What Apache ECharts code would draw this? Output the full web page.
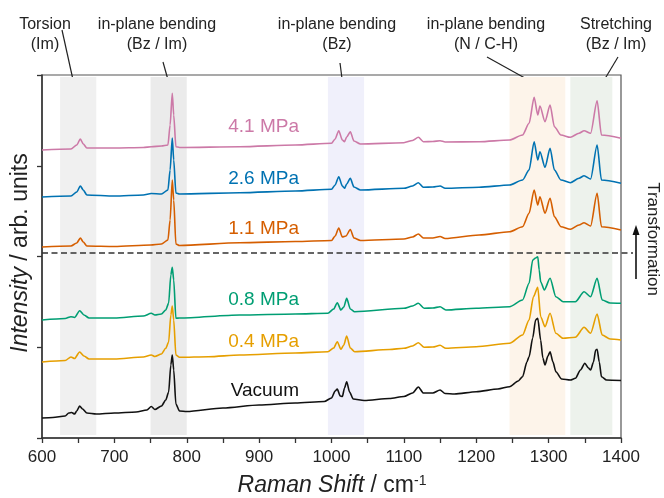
<!DOCTYPE html>
<html>
<head>
<meta charset="utf-8">
<script src="https://cdn.jsdelivr.net/npm/echarts@6.0.0/dist/echarts.min.js"></script>
<style>
  html, body { margin: 0; padding: 0; background: #fff; }
  #chart { width: 664px; height: 498px; }
</style>
</head>
<body>
<div id="chart"></div>
<script>
  // Raman spectra, [wavenumber (cm-1), intensity (arb., offset per trace)]
  const vacuum = [
    [600, 20], [615, 20.5], [632, 22], [637, 25], [641, 25.5], [645, 24], [648, 27], [652, 32], [656, 29],
    [662, 25], [675, 24], [700, 25], [730, 26], [745, 28], [751, 31.5], [756, 28.5], [765, 32], [771, 38],
    [775, 46], [778, 73], [780, 83], [782, 68], [785, 34], [790, 27], [800, 26.5], [850, 30], [900, 33],
    [950, 35], [990, 36.5], [1000, 40], [1005, 47], [1008, 49], [1012, 42], [1015, 41.5], [1018, 50],
    [1021, 56.3], [1025, 46], [1030, 39], [1045, 37.5], [1080, 39.5], [1100, 41.5], [1112, 45], [1120, 51],
    [1127, 45], [1140, 45], [1150, 48], [1157, 44.5], [1170, 44], [1200, 46.3], [1230, 49], [1246, 51.3],
    [1258, 57], [1264, 61.3], [1270, 76], [1273, 81.3], [1278, 100], [1282, 118], [1285, 119.7], [1289, 98],
    [1292, 80], [1295, 73], [1299, 82], [1302, 86.3], [1306, 76], [1310, 66.3], [1318, 59], [1330, 58],
    [1337, 59.7], [1344, 68], [1350, 74.7], [1355, 70], [1358, 68], [1362, 76], [1365, 88], [1367, 88.7],
    [1370, 76], [1373, 61.3], [1380, 58], [1400, 57.5]
  ];
  const p04 = [
    [600, 76], [632, 77.5], [640, 81], [645, 79.5], [652, 86], [658, 82], [665, 79], [700, 79], [740, 81],
    [751, 83], [756, 81.5], [765, 84], [771, 89.7], [775, 96], [778, 123], [780, 132], [782, 118], [785, 83],
    [790, 80.7], [830, 81.3], [873, 83], [950, 85], [995, 86.3], [1003, 90], [1008, 96.3], [1013, 88.7],
    [1017, 93], [1021, 102], [1026, 90], [1032, 86.3], [1080, 88.5], [1100, 89.7], [1112, 92], [1120, 95.3],
    [1128, 90.7], [1140, 91], [1150, 92.7], [1158, 89.7], [1200, 91.3], [1246, 94.7], [1264, 103],
    [1273, 118], [1279, 141.3], [1285, 150.7], [1289, 121.3], [1295, 111.3], [1302, 124.7], [1310, 104.7],
    [1320, 99.7], [1337, 100.7], [1349, 110.7], [1358, 104.7], [1367, 124], [1374, 103], [1385, 99], [1400, 98]
  ];
  const p08 = [
    [600, 118], [632, 119.5], [640, 121.3], [645, 120.5], [652, 127.3], [658, 123], [665, 120], [700, 120],
    [740, 122], [751, 124.7], [756, 123], [765, 124], [771, 128], [775, 135], [778, 163], [780, 170.7],
    [782, 158], [785, 119.7], [790, 120], [873, 123], [950, 124], [995, 124.7], [1003, 129], [1008, 135.3],
    [1013, 128], [1017, 131], [1021, 139.7], [1026, 129], [1032, 126.3], [1100, 129.7], [1112, 132],
    [1120, 134.7], [1128, 129.7], [1140, 130], [1150, 131.3], [1158, 128], [1200, 129.7], [1246, 131.3],
    [1264, 138], [1273, 154.7], [1278, 178], [1282, 180], [1285, 181.3], [1287, 168], [1289, 156.3],
    [1294, 148], [1302, 159.7], [1310, 141.3], [1320, 136.3], [1337, 136.3], [1349, 146.3], [1358, 141.3],
    [1367, 159.7], [1374, 138], [1385, 135], [1400, 134.7]
  ];
  const p11 = [
    [600, 191], [640, 192], [648, 195], [653, 200], [657, 196], [662, 192], [700, 191.5], [750, 193],
    [765, 194], [774, 198], [777, 218], [780, 258], [782, 238], [785, 194], [790, 192.5], [873, 195.3],
    [950, 196.5], [1000, 197.5], [1005, 202], [1010, 210], [1015, 201], [1020, 202], [1026, 208.5],
    [1031, 200], [1040, 197.5], [1100, 199], [1112, 201], [1120, 204], [1127, 200], [1140, 200],
    [1150, 201.5], [1157, 199.5], [1204, 203], [1246, 206.3], [1264, 211.3], [1273, 224.7], [1280, 248],
    [1285, 233], [1288, 241.3], [1295, 224.7], [1302, 239.7], [1308, 221.3], [1317, 211.3], [1330, 208.7],
    [1342, 213], [1349, 215.3], [1358, 212], [1367, 244.7], [1373, 211.3], [1400, 208]
  ];
  const p26 = [
    [600, 241], [640, 242], [648, 246], [653, 252], [657, 248], [662, 243], [700, 242], [740, 243],
    [751, 244.5], [765, 244], [774, 248], [777, 268], [780, 300], [782, 278], [785, 245], [790, 244],
    [873, 245.3], [950, 247], [1000, 248.7], [1005, 253], [1010, 261.3], [1015, 252], [1018, 249.7],
    [1021, 254], [1026, 259.7], [1031, 251], [1040, 248], [1100, 249.7], [1112, 252], [1120, 255.3],
    [1127, 250.7], [1140, 251], [1150, 252], [1157, 249.7], [1204, 250.7], [1246, 253], [1264, 258],
    [1273, 268], [1280, 296.3], [1285, 278], [1288, 286.3], [1295, 270.7], [1302, 289.7], [1308, 268],
    [1317, 258], [1330, 255.3], [1342, 259.7], [1349, 262.3], [1358, 259], [1367, 293], [1373, 258],
    [1400, 254.7]
  ];
  const p41 = [
    [600, 288], [640, 289], [648, 293], [653, 299], [657, 294], [662, 290], [700, 290], [740, 290.5],
    [751, 291.3], [765, 292], [774, 293], [777, 313], [780, 344.7], [782, 323], [785, 291.3], [790, 290.5],
    [873, 291.3], [950, 293], [1000, 294.7], [1005, 299], [1010, 307.3], [1015, 298], [1018, 296.3],
    [1021, 301], [1026, 306.3], [1031, 297], [1040, 294], [1100, 295.3], [1112, 297.5], [1120, 300.7],
    [1127, 296.3], [1140, 296.5], [1150, 297.3], [1157, 296], [1204, 296.3], [1246, 298], [1264, 303],
    [1273, 314.7], [1280, 340.7], [1285, 323], [1288, 332], [1295, 316.3], [1302, 333], [1308, 311.3],
    [1317, 303], [1330, 300.7], [1342, 304.7], [1349, 307.3], [1358, 304.7], [1367, 337.3], [1373, 303],
    [1400, 299.7]
  ];

  const seriesNames = ['Vacuum', '0.4 MPa', '0.8 MPa', '1.1 MPa', '2.6 MPa', '4.1 MPa'];
  const seriesData = [vacuum, p04, p08, p11, p26, p41];
  const seriesColors = ['#111111', '#E69F00', '#009E73', '#D55E00', '#0072B2', '#CC79A7'];

  // vibrational mode bands (cm-1)
  const bandRanges = [[625, 675], [750, 800], [995, 1045], [1246, 1323], [1330, 1388]];
  const bandColors = ['#f0f0f0', '#ebebeb', '#f0f0fb', '#fdf4ea', '#edf2ec'];
  const bandTitles = ['Torsion\n(Im)', 'in-plane bending\n(Bz / Im)', 'in-plane bending\n(Bz)',
    'in-plane bending\n(N / C-H)', 'Stretching\n(Bz / Im)'];

  const transitionLevel = 185; // dashed separator between phases
  const xMin = 600, xMax = 1400, xStep = 100;
  const yMin = 0, yMax = 363, yStep = 90.75;

  const FONT = '"Liberation Sans", Arial, Helvetica, sans-serif';
  const chart = echarts.init(document.getElementById('chart'));

  // label / annotation placement (px)
  const labelY = [391, 342, 300, 229, 179, 127];
  const titleX = [45, 157, 337, 486, 616];
  const leaders = [
    [62, 30, 79, 107], [163, 62, 170, 87], [340, 63, 347, 118], [487, 57, 541, 87], [618, 57, 600, 87]
  ];

  const graphics = [];
  seriesNames.forEach((n, i) => {
    graphics.push({
      type: 'text', x: 299, y: labelY[i], silent: true,
      style: { text: n, fill: seriesColors[i], font: '19px ' + FONT, textAlign: 'right', textVerticalAlign: 'middle' }
    });
  });
  bandTitles.forEach((t, i) => {
    graphics.push({
      type: 'text', x: titleX[i], y: 15, silent: true,
      style: { text: t, fill: '#222', font: '16px ' + FONT, textAlign: 'center', textVerticalAlign: 'top', lineHeight: 20 }
    });
  });
  leaders.forEach(l => {
    graphics.push({
      type: 'line', silent: true,
      shape: { x1: l[0], y1: l[1], x2: l[2], y2: l[3] },
      style: { stroke: '#222', lineWidth: 1.2 }
    });
  });
  // axis titles
  graphics.push({
    type: 'text', x: 332, y: 486, silent: true,
    style: {
      text: '{i|Raman Shift} / cm{s|-1}', fill: '#222', font: '23px ' + FONT,
      textAlign: 'center', textVerticalAlign: 'middle',
      rich: {
        i: { fontStyle: 'italic', fontSize: 23, fontFamily: FONT, fill: '#222' },
        s: { fontSize: 14, fontFamily: FONT, verticalAlign: 'top', fill: '#222' }
      }
    }
  });
  graphics.push({
    type: 'text', x: 21, y: 253, rotation: Math.PI / 2, silent: true,
    style: {
      text: '{i|Intensity} / arb. units', fill: '#222', font: '23px ' + FONT,
      textAlign: 'center', textVerticalAlign: 'middle',
      rich: { i: { fontStyle: 'italic', fontSize: 23, fontFamily: FONT, fill: '#222' } }
    }
  });
  // transformation arrow
  graphics.push({
    type: 'text', x: 653, y: 239, rotation: -Math.PI / 2, silent: true,
    style: { text: 'Transformation', fill: '#222', font: '17px ' + FONT, textAlign: 'center', textVerticalAlign: 'middle' }
  });
  graphics.push({
    type: 'line', silent: true, shape: { x1: 636, y1: 279, x2: 636, y2: 233 },
    style: { stroke: '#111', lineWidth: 1.6 }
  });
  graphics.push({
    type: 'polygon', silent: true, shape: { points: [[636, 225], [632.5, 235], [639.5, 235]] },
    style: { fill: '#111' }
  });

  const series = seriesNames.map((n, i) => ({
    type: 'line', name: n, data: seriesData[i], symbol: 'none', smooth: 0.25, smoothMonotone: 'x',
    lineStyle: { color: seriesColors[i], width: 1.6 }, z: 3, silent: true
  }));
  series.unshift({
    type: 'line', name: 'bands', data: [], symbol: 'none', z: 1, silent: true,
    markArea: {
      silent: true,
      data: bandRanges.map((r, i) => [
        { xAxis: r[0], yAxis: yMin + 3, itemStyle: { color: bandColors[i] } },
        { xAxis: r[1], yAxis: yMax - 2 }
      ])
    }
  });

  chart.setOption({
    animation: false,
    grid: {
      left: 42, right: 43, top: 75, bottom: 60,
      show: true, borderColor: '#555', borderWidth: 1.2, backgroundColor: 'transparent'
    },
    xAxis: {
      type: 'value', min: xMin, max: xMax, interval: xStep,
      axisLine: { show: true, lineStyle: { color: '#333', width: 1.5 } },
      axisTick: { show: true, length: 5, lineStyle: { color: '#333', width: 1.3 } },
      minorTick: { show: true, splitNumber: 2, length: 5, lineStyle: { color: '#333', width: 1.3 } },
      splitLine: { show: false },
      axisLabel: { color: '#222', fontSize: 17, fontFamily: FONT, margin: 11, formatter: v => String(v) }
    },
    yAxis: {
      type: 'value', min: yMin, max: yMax, interval: yStep,
      axisLine: { show: true, lineStyle: { color: '#333', width: 1.5 } },
      axisTick: { show: true, length: 5, lineStyle: { color: '#333', width: 1.3 } },
      splitLine: { show: false },
      axisLabel: { show: false }
    },
    graphic: graphics,
    series: series
  });

  // dashed phase separator, extended past the frame towards the arrow
  const dashY = chart.convertToPixel({ yAxisIndex: 0 }, transitionLevel);
  const dashX0 = chart.convertToPixel({ xAxisIndex: 0 }, xMin);
  graphics.push({
    type: 'line', silent: true, z: 10,
    shape: { x1: dashX0, y1: dashY, x2: 633, y2: dashY },
    style: { stroke: '#333', lineWidth: 1.5, lineDash: [6, 3.5] }
  });
  chart.setOption({ graphic: graphics });
</script>
</body>
</html>
